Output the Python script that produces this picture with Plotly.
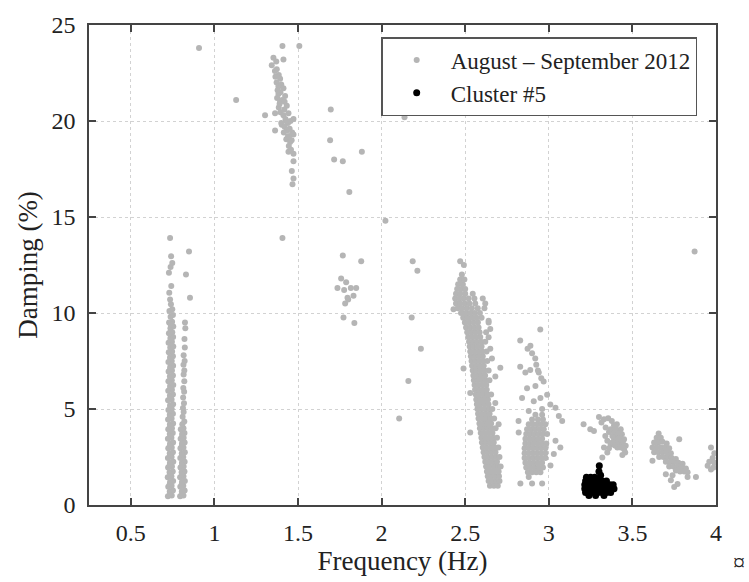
import plotly.graph_objects as go

# ---------------- data ----------------
# (frequency Hz, damping %) pairs for sparse groups,
# (damping %, [frequencies Hz]) rows for dense groups

mode_073 = [
    (0.722, 0.45), (0.745, 0.5), (0.733, 0.7), (0.752, 0.75), (0.724, 0.95), (0.744, 1.0),
    (0.735, 1.2), (0.753, 1.25), (0.721, 1.45), (0.743, 1.5), (0.732, 1.7), (0.751, 1.75),
    (0.723, 1.95), (0.746, 2.0), (0.734, 2.2), (0.754, 2.25), (0.722, 2.45), (0.744, 2.5),
    (0.733, 2.7), (0.752, 2.75), (0.724, 2.95), (0.745, 3.0), (0.735, 3.2), (0.753, 3.25),
    (0.722, 3.45), (0.743, 3.5), (0.733, 3.7), (0.751, 3.75), (0.724, 3.95), (0.746, 4.0),
    (0.734, 4.2), (0.753, 4.25), (0.723, 4.45), (0.744, 4.5), (0.733, 4.7), (0.752, 4.75),
    (0.725, 4.95), (0.745, 5.0), (0.735, 5.2), (0.753, 5.25), (0.723, 5.45), (0.744, 5.5),
    (0.734, 5.7), (0.752, 5.75), (0.724, 5.95), (0.746, 6.0), (0.735, 6.2), (0.754, 6.25),
    (0.725, 6.45), (0.745, 6.5), (0.734, 6.7), (0.752, 6.75), (0.726, 6.95), (0.746, 7.0),
    (0.736, 7.2), (0.753, 7.25), (0.725, 7.45), (0.745, 7.5), (0.735, 7.7), (0.752, 7.75),
    (0.727, 7.95), (0.747, 8.0), (0.736, 8.2), (0.754, 8.25), (0.726, 8.45), (0.746, 8.5),
    (0.737, 8.7), (0.753, 8.75), (0.728, 8.95), (0.748, 9.0), (0.737, 9.2), (0.754, 9.3),
    (0.729, 9.5), (0.747, 9.55), (0.738, 9.8), (0.752, 9.9), (0.731, 10.1), (0.748, 10.2),
    (0.740, 10.45), (0.735, 10.7), (0.730, 11.06), (0.742, 11.4), (0.728, 12.1),
    (0.738, 12.4), (0.748, 12.6), (0.741, 12.95), (0.735, 13.9),
    (0.848, 13.2), (0.830, 12.0), (0.854, 10.8),
    (0.734, 0.55), (0.736, 1.6), (0.735, 2.6), (0.737, 3.6), (0.735, 4.6), (0.736, 5.6),
    (0.737, 6.6), (0.736, 7.6), (0.738, 8.6), (0.739, 9.4), (0.733, 1.1), (0.734, 3.1),
    (0.736, 5.1), (0.735, 7.1), (0.737, 9.0), (0.733, 2.1), (0.735, 4.1), (0.736, 6.1),
]

mode_081 = [
    (0.795, 0.45), (0.815, 0.5), (0.805, 0.7), (0.822, 0.75), (0.796, 0.95), (0.814, 1.0),
    (0.806, 1.2), (0.823, 1.25), (0.795, 1.45), (0.815, 1.5), (0.804, 1.7), (0.821, 1.75),
    (0.797, 1.95), (0.816, 2.0), (0.806, 2.2), (0.822, 2.25), (0.796, 2.45), (0.814, 2.5),
    (0.805, 2.7), (0.823, 2.75), (0.797, 2.95), (0.815, 3.0), (0.806, 3.2), (0.822, 3.25),
    (0.798, 3.45), (0.816, 3.5), (0.807, 3.7), (0.821, 3.75), (0.799, 3.95), (0.815, 4.0),
    (0.808, 4.2), (0.820, 4.35), (0.810, 4.6), (0.816, 4.85), (0.812, 5.05), (0.818, 5.3),
    (0.813, 5.6), (0.819, 5.9), (0.814, 6.1), (0.820, 6.45), (0.816, 6.8), (0.820, 7.0),
    (0.815, 7.3), (0.822, 7.5), (0.816, 7.8), (0.823, 8.2), (0.821, 8.65), (0.826, 9.2),
    (0.824, 9.5),
    (0.806, 0.55), (0.807, 1.6), (0.806, 2.6), (0.808, 3.6), (0.805, 1.1), (0.807, 2.1),
    (0.806, 3.1),
]

mode_140 = [
    (1.407, 23.9), (1.508, 23.9), (1.353, 23.3), (1.370, 23.1), (1.413, 23.2), (1.343, 22.9),
    (1.362, 22.6), (1.373, 22.7), (1.385, 22.4), (1.393, 22.2), (1.372, 22.0), (1.383, 21.8),
    (1.400, 21.9), (1.413, 21.7), (1.383, 21.4), (1.395, 21.5), (1.423, 21.3), (1.375, 21.2),
    (1.393, 21.0), (1.405, 21.1), (1.433, 20.8), (1.385, 20.7), (1.418, 20.6), (1.363, 20.4),
    (1.303, 20.3), (1.395, 20.45), (1.413, 20.3), (1.443, 20.4), (1.473, 20.1), (1.425, 20.1),
    (1.400, 19.9), (1.440, 19.9), (1.455, 20.0), (1.403, 19.8), (1.420, 19.7), (1.363, 19.5),
    (1.433, 19.5), (1.450, 19.6), (1.415, 19.4), (1.465, 19.4), (1.473, 19.3), (1.440, 19.2),
    (1.430, 19.05), (1.453, 18.9), (1.462, 19.0), (1.445, 18.7), (1.443, 18.4), (1.473, 18.3),
    (1.458, 18.5), (1.473, 17.9), (1.463, 17.4), (1.473, 17.0), (1.467, 16.7), (1.407, 13.9),
    (1.365, 22.3), (1.378, 21.6), (1.390, 20.9), (1.430, 20.0), (1.420, 21.0), (1.447, 19.2),
]

scattered = [
    (0.908, 23.8), (1.130, 21.1), (1.696, 20.6), (1.692, 19.0), (1.716, 18.0), (1.768, 17.9),
    (1.882, 18.4), (1.807, 16.3), (2.023, 14.8), (2.137, 20.2), (1.768, 13.0), (1.878, 12.7),
    (1.758, 11.8), (1.788, 11.6), (1.736, 11.3), (1.776, 11.2), (1.816, 11.3), (1.848, 11.3),
    (1.796, 10.8), (1.832, 10.9), (1.782, 10.5), (1.772, 9.77), (1.837, 9.48), (1.800, 10.7),
    (2.186, 12.7), (2.214, 12.2), (2.180, 9.77), (2.235, 8.14), (2.160, 6.46), (2.105, 4.51),
    (3.872, 13.2),
]

mode_255_rows = [
    (1.00, [2.648, 2.672, 2.695]),
    (1.25, [2.640, 2.662, 2.685, 2.705]),
    (1.50, [2.635, 2.658, 2.680, 2.702]),
    (1.75, [2.630, 2.652, 2.676, 2.700]),
    (2.00, [2.625, 2.648, 2.672, 2.696, 2.712]),
    (2.25, [2.620, 2.643, 2.667, 2.690]),
    (2.50, [2.615, 2.638, 2.662, 2.686, 2.705]),
    (2.75, [2.610, 2.633, 2.657, 2.681]),
    (3.00, [2.605, 2.628, 2.652, 2.676, 2.698]),
    (3.25, [2.600, 2.623, 2.647, 2.671]),
    (3.50, [2.597, 2.620, 2.643, 2.667, 2.690]),
    (3.75, [2.593, 2.616, 2.640, 2.663]),
    (4.00, [2.588, 2.611, 2.635, 2.658, 2.682]),
    (4.25, [2.585, 2.608, 2.631, 2.655]),
    (4.50, [2.580, 2.604, 2.627, 2.650, 2.673]),
    (4.75, [2.577, 2.600, 2.623, 2.646]),
    (5.00, [2.573, 2.596, 2.620, 2.643, 2.662]),
    (5.25, [2.570, 2.592, 2.616, 2.639]),
    (5.50, [2.566, 2.589, 2.612, 2.636]),
    (5.75, [2.563, 2.586, 2.609, 2.632, 2.655]),
    (6.00, [2.559, 2.582, 2.606, 2.629]),
    (6.25, [2.556, 2.579, 2.602, 2.626]),
    (6.50, [2.552, 2.575, 2.599, 2.622, 2.645]),
    (6.75, [2.549, 2.572, 2.595, 2.619]),
    (7.00, [2.545, 2.568, 2.592, 2.615, 2.640]),
    (7.25, [2.541, 2.565, 2.588, 2.611]),
    (7.50, [2.538, 2.561, 2.585, 2.608, 2.632]),
    (7.75, [2.534, 2.558, 2.581, 2.605]),
    (8.00, [2.530, 2.554, 2.578, 2.602, 2.628]),
    (8.25, [2.527, 2.550, 2.574, 2.598]),
    (8.50, [2.523, 2.546, 2.570, 2.595, 2.620]),
    (8.75, [2.518, 2.542, 2.566, 2.590]),
    (9.00, [2.512, 2.537, 2.561, 2.586, 2.625]),
    (9.25, [2.505, 2.531, 2.556, 2.580]),
    (9.50, [2.498, 2.524, 2.550, 2.576, 2.640]),
    (9.75, [2.488, 2.515, 2.542, 2.568, 2.598]),
    (10.00, [2.475, 2.502, 2.530, 2.558, 2.588]),
    (10.25, [2.455, 2.482, 2.510, 2.540, 2.575, 2.615]),
    (10.50, [2.445, 2.470, 2.497, 2.525, 2.560, 2.620]),
    (10.75, [2.440, 2.465, 2.490, 2.520, 2.555, 2.605]),
    (11.00, [2.445, 2.470, 2.500, 2.545]),
    (11.25, [2.452, 2.478, 2.500]),
    (11.50, [2.458, 2.484]),
    (11.75, [2.470, 2.495]),
    (12.00, [2.480]),
    (12.50, [2.492]),
    (12.70, [2.470]),
]

mode_255_outliers = [
    (2.710, 7.15), (2.490, 7.11), (2.680, 6.69), (2.530, 5.83), (2.530, 3.77), (2.700, 4.20),
    (2.680, 5.31), (2.640, 9.60), (2.650, 9.17), (2.640, 8.74), (2.650, 8.14), (2.660, 7.63),
    (2.430, 10.2),
]

mode_290_rows = [
    (1.70, [2.875, 2.900, 2.925, 2.950]),
    (1.95, [2.865, 2.890, 2.915, 2.940, 2.965]),
    (2.20, [2.860, 2.885, 2.910, 2.935, 2.960]),
    (2.45, [2.855, 2.880, 2.905, 2.930, 2.955, 2.980]),
    (2.70, [2.855, 2.880, 2.905, 2.930, 2.955, 2.980]),
    (2.95, [2.855, 2.880, 2.905, 2.930, 2.955, 2.980]),
    (3.20, [2.860, 2.885, 2.910, 2.935, 2.960, 2.985]),
    (3.45, [2.860, 2.885, 2.910, 2.935, 2.960]),
    (3.70, [2.865, 2.890, 2.915, 2.940, 2.965, 2.990]),
    (3.95, [2.870, 2.895, 2.920, 2.945, 2.970]),
    (4.20, [2.880, 2.905, 2.930, 2.955, 2.980]),
    (4.45, [2.900, 2.935, 2.965]),
    (4.70, [2.920, 2.960]),
]

mode_290_sparse = [
    (2.949, 9.14), (2.829, 8.57), (2.873, 8.14), (2.900, 7.90), (2.919, 7.63), (2.925, 7.30),
    (2.889, 7.03), (2.940, 6.90), (2.860, 6.90), (2.829, 7.20), (2.969, 6.43), (2.920, 6.20),
    (2.870, 6.08), (2.990, 5.74), (2.950, 5.57), (2.910, 5.40), (2.840, 5.57), (3.009, 5.23),
    (3.040, 5.06), (2.960, 5.00), (2.880, 4.89), (2.819, 4.37), (2.820, 3.77), (3.040, 3.34),
    (3.069, 3.00), (3.030, 2.66), (3.010, 2.06), (2.830, 1.12), (2.900, 1.12), (2.960, 1.12),
    (2.880, 1.46), (3.060, 4.63), (3.080, 4.37), (2.890, 8.30), (2.935, 7.00), (2.955, 6.60),
]

mode_335 = [
    (3.208, 4.20), (3.248, 3.94), (3.270, 3.85), (3.300, 4.58), (3.330, 4.47), (3.355, 4.52),
    (3.377, 4.37), (3.407, 4.20), (3.430, 3.94), (3.437, 3.69), (3.450, 3.43), (3.460, 3.09),
    (3.457, 2.74), (3.338, 3.60), (3.350, 3.34), (3.370, 3.17), (3.330, 3.00), (3.350, 2.74),
    (3.320, 2.48), (3.400, 3.60), (3.420, 3.26), (3.370, 3.94), (3.340, 4.03), (3.390, 4.15),
    (3.410, 3.85), (3.390, 3.45), (3.440, 3.20), (3.410, 3.00), (3.450, 2.90), (3.440, 2.60),
    (3.315, 4.30), (3.360, 3.80), (3.380, 3.60), (3.400, 3.30), (3.425, 3.55), (3.360, 2.95),
    (3.390, 3.80), (3.415, 3.45), (3.430, 3.00), (3.380, 3.25), (3.400, 3.95), (3.425, 3.75),
    (3.445, 3.35), (3.395, 3.10),
]

mode_370 = [
    (3.657, 3.72), (3.645, 3.50), (3.670, 3.50), (3.630, 3.25), (3.655, 3.25), (3.680, 3.30),
    (3.705, 3.20), (3.620, 3.00), (3.645, 3.00), (3.670, 3.00), (3.695, 3.00), (3.720, 2.95),
    (3.630, 2.75), (3.655, 2.75), (3.680, 2.75), (3.705, 2.75), (3.730, 2.70), (3.660, 2.50),
    (3.685, 2.50), (3.710, 2.50), (3.735, 2.45), (3.760, 2.40), (3.700, 2.25), (3.725, 2.25),
    (3.750, 2.25), (3.775, 2.20), (3.800, 2.15), (3.720, 2.00), (3.745, 2.00), (3.770, 2.00),
    (3.795, 1.95), (3.820, 1.90), (3.760, 1.80), (3.785, 1.75), (3.810, 1.75), (3.830, 1.70),
    (3.730, 1.29), (3.750, 0.94), (3.770, 1.10), (3.830, 1.46), (3.880, 1.46), (3.780, 3.43),
    (3.700, 1.60), (3.740, 1.55), (3.620, 2.30),
]

mode_398 = [
    (3.970, 3.00), (3.990, 2.70), (3.980, 2.45), (3.960, 2.25), (3.990, 2.20), (3.950, 2.05),
    (3.985, 1.95), (3.970, 1.85),
]

cluster5_rows = [
    (1.45, [3.225, 3.250, 3.275]),
    (1.25, [3.220, 3.245, 3.270, 3.295, 3.320, 3.345]),
    (1.05, [3.215, 3.240, 3.265, 3.290, 3.315, 3.340, 3.365, 3.385]),
    (0.85, [3.215, 3.240, 3.265, 3.290, 3.315, 3.340, 3.365, 3.390]),
    (0.65, [3.220, 3.245, 3.270, 3.295, 3.320, 3.345, 3.370]),
    (0.50, [3.240, 3.280, 3.330]),
]
cluster5_spike = [(3.300, 1.75), (3.302, 2.05), (3.310, 1.55)]

x_ticks = [0.5, 1, 1.5, 2, 2.5, 3, 3.5, 4]
x_ticktext = ["0.5", "1", "1.5", "2", "2.5", "3", "3.5", "4"]
y_ticks = [0, 5, 10, 15, 20, 25]
series_names = ["August \u2013 September 2012", "Cluster #5"]


# ---------------- assemble ----------------
def from_pairs(pairs):
    return [p[0] for p in pairs], [p[1] for p in pairs]


def from_rows(rows):
    fs, ds = [], []
    for d, flist in rows:
        for f in flist:
            fs.append(f)
            ds.append(d)
    return fs, ds


gray_f, gray_d = [], []
for grp in (mode_073, mode_081, mode_140, scattered, mode_255_outliers,
            mode_290_sparse, mode_335, mode_370, mode_398):
    f, d = from_pairs(grp)
    gray_f += f
    gray_d += d
for rows in (mode_255_rows, mode_290_rows):
    f, d = from_rows(rows)
    gray_f += f
    gray_d += d

blk_f, blk_d = from_rows(cluster5_rows)
f, d = from_pairs(cluster5_spike)
blk_f += f
blk_d += d

FONT = "Liberation Serif"

fig = go.Figure()
fig.add_trace(go.Scatter(x=gray_f, y=gray_d, mode="markers", name=series_names[0],
                         marker=dict(color="#b5b5b5", size=6, line=dict(width=0))))
fig.add_trace(go.Scatter(x=blk_f, y=blk_d, mode="markers", name=series_names[1],
                         marker=dict(color="#000000", size=7, line=dict(width=0))))

axis_common = dict(
    ticks="inside", ticklen=7, tickwidth=1.5, tickcolor="#444",
    showline=True, linecolor="#444", linewidth=1.5, mirror="allticks",
    showgrid=True, gridcolor="#d2d2d2", griddash="dot", gridwidth=1,
    zeroline=False, tickfont=dict(size=24, family=FONT, color="#222"),
)

fig.update_xaxes(range=[0.25, 4], tickvals=x_ticks, ticktext=x_ticktext,
                 ticklabelstandoff=5,
                 title=dict(text="Frequency (Hz)", font=dict(size=27, family=FONT, color="#222"),
                            standoff=5),
                 **axis_common)
fig.update_yaxes(range=[0, 25], tickvals=y_ticks,
                 ticklabelstandoff=7,
                 title=dict(text="Damping (%)", font=dict(size=27, family=FONT, color="#222"),
                            standoff=6),
                 **axis_common)

fig.update_layout(
    width=749, height=582,
    margin=dict(l=89, r=33, t=19, b=77),
    paper_bgcolor="white", plot_bgcolor="white",
    font=dict(family=FONT, color="#222", size=23),
    showlegend=True,
    legend=dict(x=0.970, y=0.975, xanchor="right", yanchor="top",
                bordercolor="#555", borderwidth=1.5, bgcolor="white",
                font=dict(size=23, family=FONT, color="#222"),
                tracegroupgap=0, itemwidth=58),
)

fig.add_annotation(text="\u00a4", xref="paper", yref="paper", x=1.05, y=-0.15,
                   showarrow=False, font=dict(size=24, family=FONT, color="#222"))

fig.write_html("out.html")
